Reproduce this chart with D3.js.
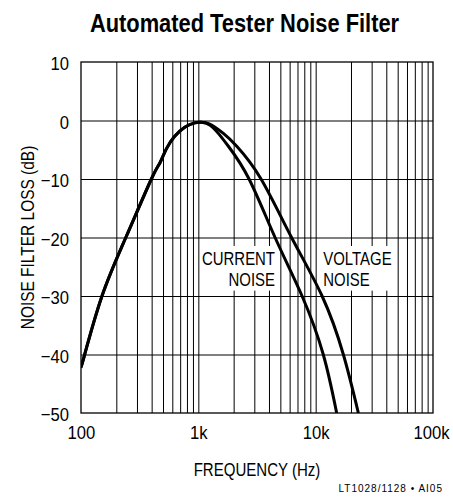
<!DOCTYPE html>
<html>
<head>
<meta charset="utf-8">
<script src="https://cdn.jsdelivr.net/npm/d3@7"></script>
<style>
  html, body { margin: 0; padding: 0; background: #fff; }
  svg { display: block; }
  text { font-family: "Liberation Sans", Arial, Helvetica, sans-serif; fill: #000; }
</style>
</head>
<body>
<svg id="chart" width="453" height="497"></svg>
<script>
// Frequency-response data (Hz, dB)
const risingFreq = [100, 107.5, 151, 241, 398, 469, 534, 629, 766, 932, 1054];
const risingDb   = [-42.2, -40, -30, -20, -10, -7.3, -4.85, -2.7, -1.15, -0.4, -0.3];

const currentFreq = [1250, 1481, 1803, 2705, 4508, 7656, 11610, 15100];
const currentDb   = [-0.75, -2.2, -4.4, -10, -20, -30, -40, -50];

const voltageFreq = [1250, 1634, 2126, 3423, 6230, 11340, 17220, 23120];
const voltageDb   = [-0.6, -2.2, -4.4, -10, -20, -30, -40, -50];

const xTickValues = [100, 1000, 10000, 100000];
const xTickLabels = ["100", "1k", "10k", "100k"];
const yTickValues = [10, 0, -10, -20, -30, -40, -50];

const svg = d3.select("#chart");
const plotL = 81, plotR = 433, plotT = 62, plotB = 413;

const x = d3.scaleLog().domain([100, 100000]).range([plotL, plotR]);
const y = d3.scaleLinear().domain([-50, 10]).range([plotB, plotT]);

// Condensed text: regular face squeezed horizontally
function ctext(parent, px, py, str, size, squeeze, anchor, weight) {
  const g = parent.append("g").attr("transform", `translate(${px},${py}) scale(${squeeze},1)`);
  g.append("text")
    .attr("x", 0).attr("y", 0)
    .attr("font-size", size)
    .attr("font-weight", weight || "normal")
    .attr("text-anchor", anchor)
    .text(str);
  return g;
}

// minor + major log gridlines
const xGridValues = [];
for (let dec = 100; dec < 100000; dec *= 10) {
  for (let m = 1; m <= 9; m++) xGridValues.push(dec * m);
}
const gx = svg.append("g")
  .attr("transform", `translate(0,${plotB})`)
  .call(d3.axisBottom(x).tickValues(xGridValues.filter(v => v > 100))
    .tickSize(-(plotB - plotT)).tickFormat(""));
gx.select(".domain").remove();
gx.selectAll("line").attr("stroke", "#000").attr("stroke-width", 1);

const gy = svg.append("g")
  .attr("transform", `translate(${plotL},0)`)
  .call(d3.axisLeft(y).tickValues(yTickValues.filter(v => v > -50 && v < 10))
    .tickSize(-(plotR - plotL)).tickFormat(""));
gy.select(".domain").remove();
gy.selectAll("line").attr("stroke", "#000").attr("stroke-width", 1);

// frame
svg.append("rect")
  .attr("x", plotL).attr("y", plotT)
  .attr("width", plotR - plotL).attr("height", plotB - plotT)
  .attr("fill", "none").attr("stroke", "#000").attr("stroke-width", 1.3);

// curve annotations on white backing boxes
function note(lines, px, anchor) {
  const squeeze = 0.83, base = y(-24.75);
  const g = svg.append("g").attr("transform", `translate(${px},${base}) scale(${squeeze},1)`);
  const t = g.append("text").attr("font-size", 18).attr("text-anchor", anchor);
  lines.forEach((s, i) => t.append("tspan").attr("x", 0).attr("y", i * 21).text(s));
  const bb = t.node().getBBox();
  g.insert("rect", "text")
    .attr("x", bb.x - 2).attr("y", bb.y - 3)
    .attr("width", bb.width + 4).attr("height", bb.height + 3)
    .attr("fill", "#fff");
}
note(["CURRENT", "NOISE"], 275, "end");
note(["VOLTAGE", "NOISE"], 323.3, "start");

// curves
const line = d3.line()
  .x(d => x(d[0])).y(d => y(d[1]))
  .curve(d3.curveNatural);

const rising = risingFreq.map((f, i) => [f, risingDb[i]]);
const current = rising.concat(currentFreq.map((f, i) => [f, currentDb[i]]));
const voltage = rising.concat(voltageFreq.map((f, i) => [f, voltageDb[i]]));

svg.append("clipPath").attr("id", "plotClip")
  .append("rect").attr("x", plotL).attr("y", plotT)
  .attr("width", plotR - plotL).attr("height", plotB - plotT);

[current, voltage].forEach(data => {
  svg.append("path")
    .datum(data)
    .attr("clip-path", "url(#plotClip)")
    .attr("d", line)
    .attr("fill", "none")
    .attr("stroke", "#000")
    .attr("stroke-width", 3)
    .attr("stroke-linejoin", "round");
});

// tick labels
const tickSqueeze = 0.9;
const ax = svg.append("g")
  .attr("transform", `translate(0,${plotB})`)
  .call(d3.axisBottom(x).tickValues(xTickValues).tickSize(0).tickPadding(13)
    .tickFormat((d, i) => xTickLabels[i]));
ax.select(".domain").remove();
ax.selectAll("text")
  .attr("font-size", 18.5)
  .attr("transform", (d, i) => `translate(${i === xTickValues.length - 1 ? -2 : 0},0) scale(${tickSqueeze},1)`);

const ay = svg.append("g")
  .attr("transform", `translate(${plotL},0)`)
  .call(d3.axisLeft(y).tickValues(yTickValues).tickSize(0).tickPadding(12)
    .tickFormat(d => d < 0 ? "\u2212" + Math.abs(d) : String(d)));
ay.select(".domain").remove();
ay.selectAll("text")
  .attr("font-size", 18.5)
  .attr("x", -12 / tickSqueeze)
  .attr("dy", "0.42em")
  .attr("transform", `scale(${tickSqueeze},1)`);
[ax, ay].forEach(a => a.attr("font-family", null).attr("font-size", null));

// axis titles
ctext(svg, (plotL + plotR) / 2, 476, "FREQUENCY (Hz)", 18, 0.835, "middle");
svg.append("g")
  .attr("transform", `translate(34,${(plotT + plotB) / 2}) rotate(-90) scale(0.86,1)`)
  .append("text")
  .attr("font-size", 18)
  .attr("text-anchor", "middle")
  .text("NOISE FILTER LOSS (dB)");

// title
ctext(svg, 244.5, 32, "Automated Tester Noise Filter", 26.5, 0.825, "middle", "bold");

// figure code
svg.append("text")
  .attr("x", 443).attr("y", 492)
  .attr("text-anchor", "end")
  .attr("font-size", 10)
  .attr("letter-spacing", 1)
  .text("LT1028/1128 \u2022 AI05");
</script>
</body>
</html>
